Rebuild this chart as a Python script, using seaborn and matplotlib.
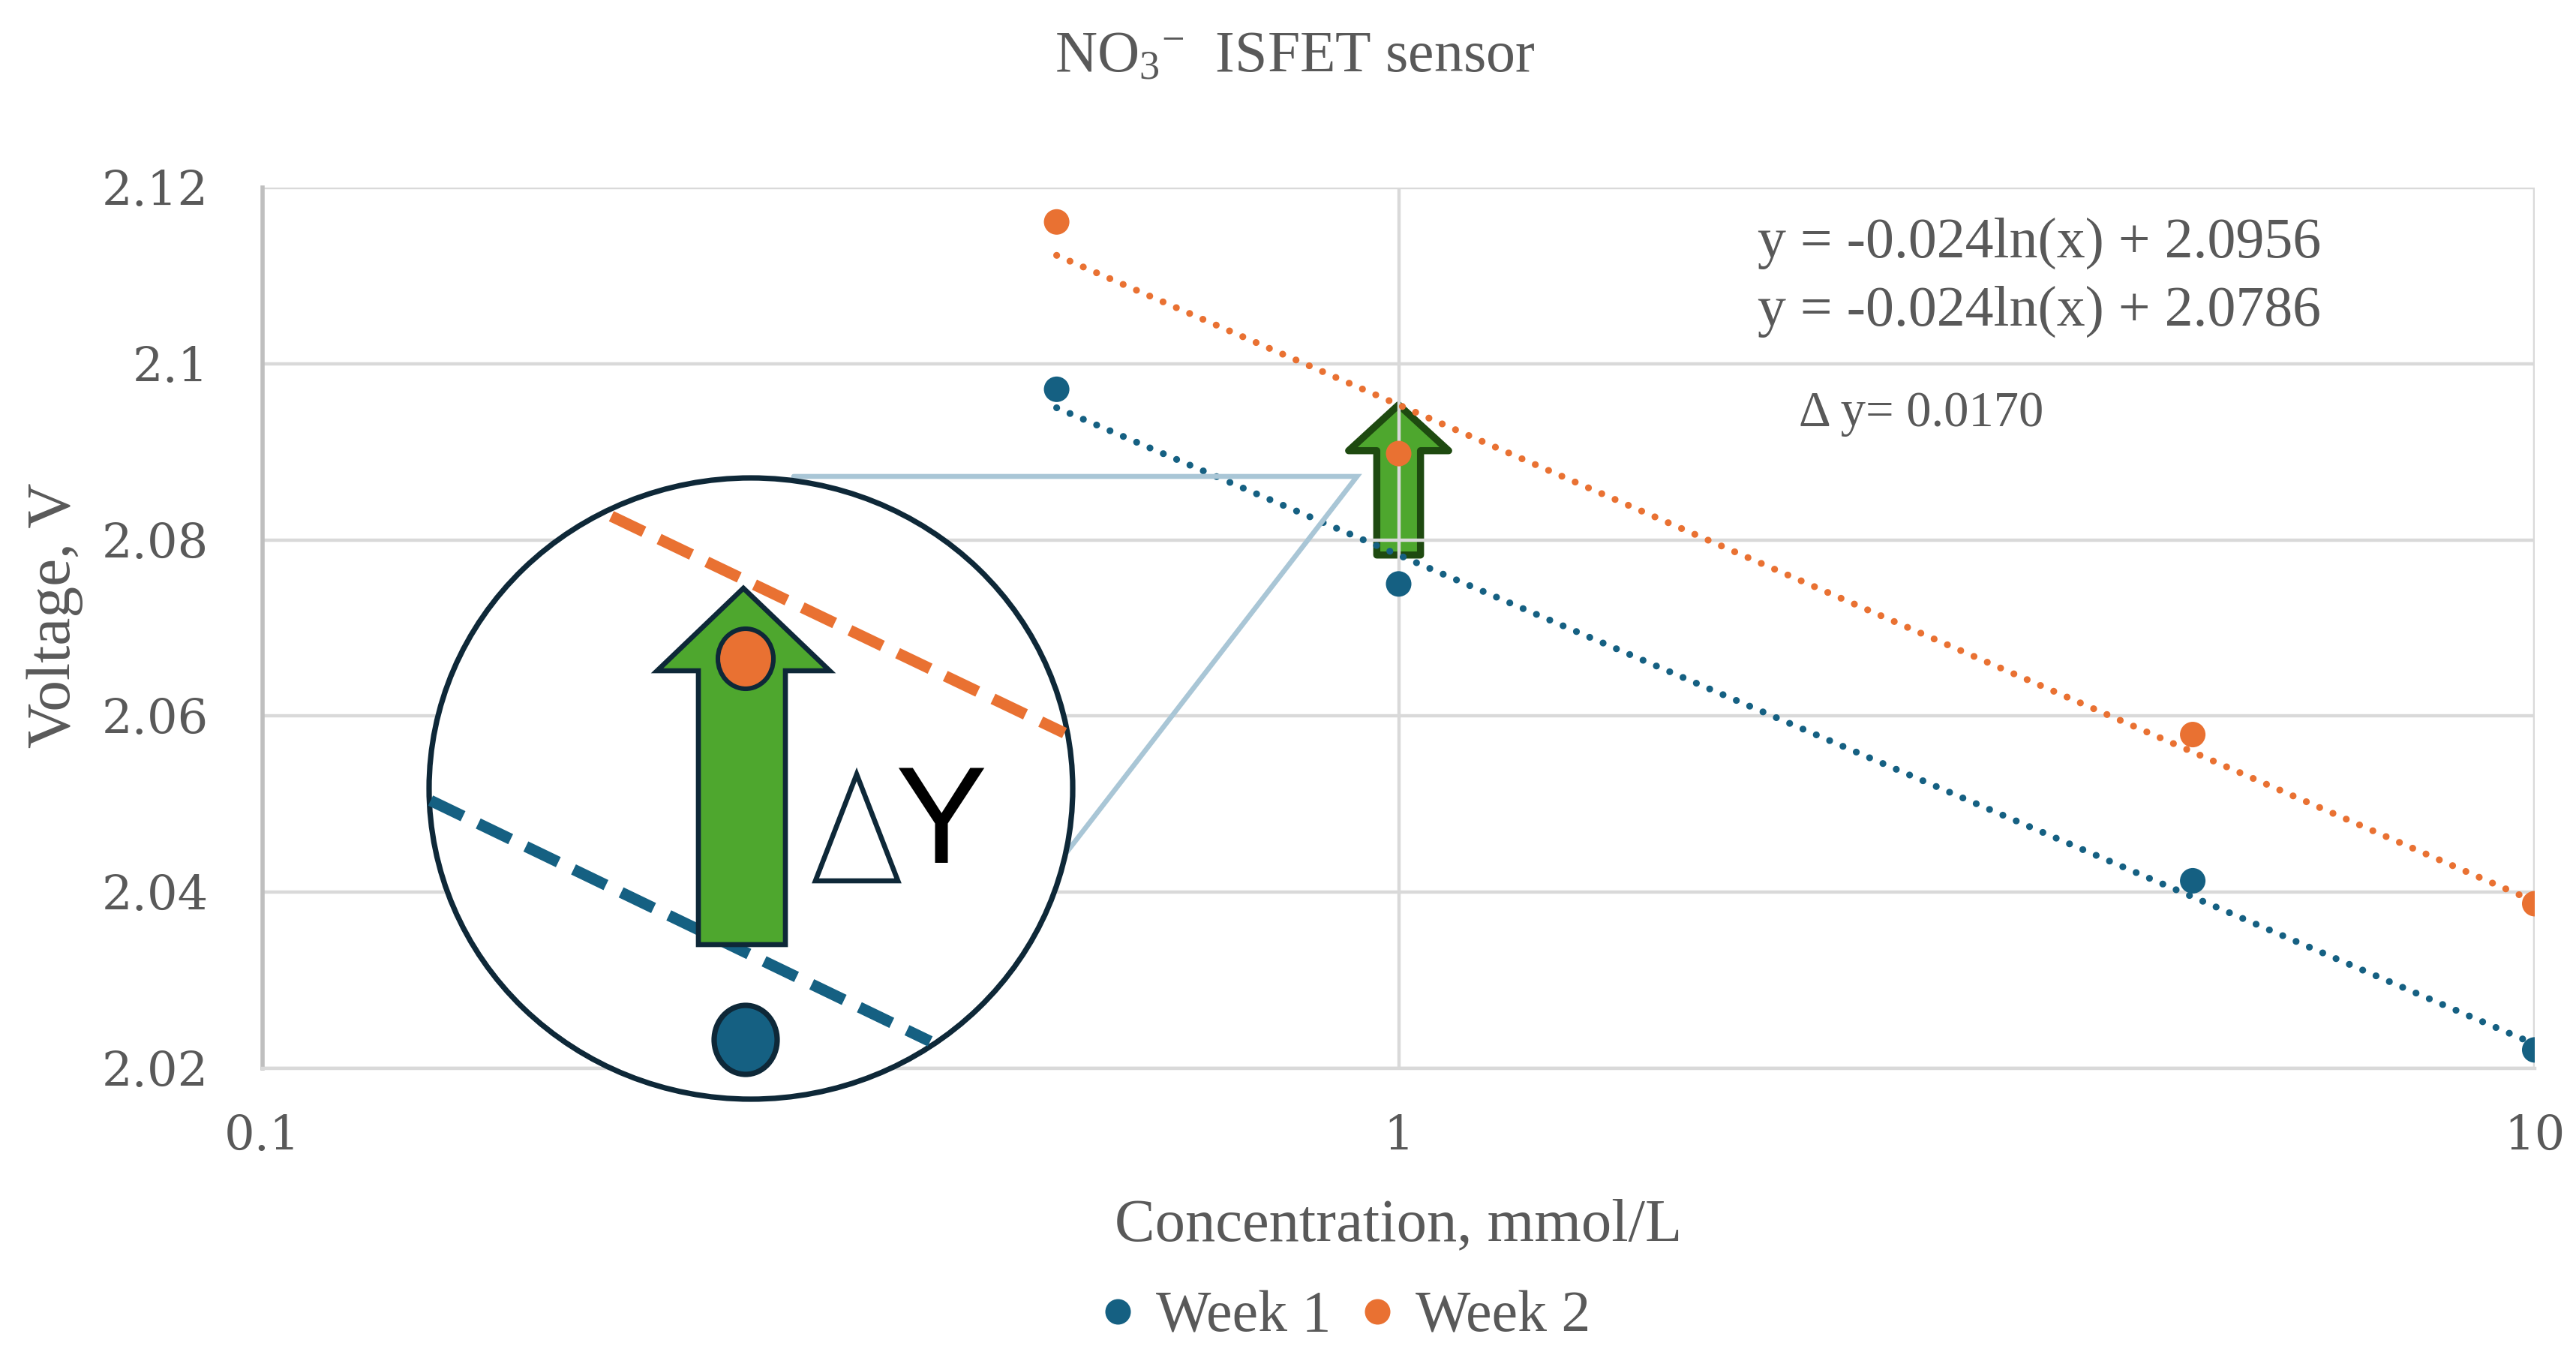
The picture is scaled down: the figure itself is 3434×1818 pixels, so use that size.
import numpy as np
import pandas as pd
import matplotlib
matplotlib.use("Agg")
import matplotlib.pyplot as plt
import seaborn as sns
from matplotlib.patches import Ellipse, Polygon
from matplotlib.ticker import NullLocator

# data
concentration = [0.5, 1, 5, 10]
week1 = [2.0971, 2.0750, 2.0413, 2.0221]
week2 = [2.1161, 2.0898, 2.0579, 2.0387]
series = ["Week 1", "Week 2"]
colors = ["#156082", "#e97132"]

eq_labels = ["y = -0.024ln(x) + 2.0956", "y = -0.024ln(x) + 2.0786"]
delta_label = "\u0394 y= 0.0170"
y_ticks = [2.02, 2.04, 2.06, 2.08, 2.1, 2.12]
y_ticklabels = ["2.02", "2.04", "2.06", "2.08", "2.1", "2.12"]
x_ticks = [0.1, 1, 10]
x_ticklabels = ["0.1", "1", "10"]

W, H = 3434, 1818
grey = "#595959"
navy = "#0e2838"

sns.set_theme(style="white")
plt.rcParams["font.family"] = ["Liberation Serif", "DejaVu Serif"]
plt.rcParams["mathtext.fontset"] = "custom"
plt.rcParams["mathtext.rm"] = "Liberation Serif"
plt.rcParams["mathtext.it"] = "Liberation Serif:italic"

df = pd.DataFrame({
    "conc": concentration * 2,
    "volt": week1 + week2,
    "series": [series[0]] * 4 + [series[1]] * 4,
})

fig = plt.figure(figsize=(W / 200, H / 200), dpi=200)
ax = fig.add_axes([350 / W, 1 - 1424 / H, (3379 - 350) / W, (1424 - 250) / H])

sns.scatterplot(data=df, x="conc", y="volt", hue="series", palette=colors,
                s=150, linewidth=0, zorder=3, ax=ax)

# log trendlines (Excel style)
fits = {}
for name, vals, c in zip(series, [week1, week2], colors):
    k, b = np.polyfit(np.log(concentration), vals, 1)
    fits[name] = (k, b)
    ax.plot(concentration, k * np.log(concentration) + b, color=c, lw=3.3,
            linestyle=(0, (0.01, 2.1)), dash_capstyle="round", zorder=2)

# small arrow between trendlines at x=1
ax.annotate("", xy=(1, fits["Week 2"][1]), xytext=(1, fits["Week 1"][1]),
            arrowprops=dict(arrowstyle="simple,head_length=2.2,head_width=4.8,tail_width=2.1",
                            mutation_scale=10, fc="#4ea72e", ec="#1e4a10", lw=3.4,
                            shrinkA=0, shrinkB=0),
            zorder=1.2)

ax.set_xscale("log")
ax.set_xlim(0.1, 10)
ax.set_ylim(2.02, 2.12)
ax.set_xticks(x_ticks)
ax.set_xticklabels(x_ticklabels)
ax.xaxis.set_minor_locator(NullLocator())
ax.set_yticks(y_ticks)
ax.set_yticklabels(y_ticklabels)
ax.tick_params(length=0, labelsize=23, colors=grey)
ax.tick_params(axis="y", pad=26)
ax.tick_params(axis="x", pad=22)
for lab in ax.get_xticklabels() + ax.get_yticklabels():
    lab.set_fontfamily("DejaVu Serif")

ax.set_axisbelow("line")
ax.grid(True, color="#d9d9d9", lw=1.6)
for s in ["top", "right"]:
    ax.spines[s].set_visible(False)
ax.spines["left"].set_color("#bfbfbf")
ax.spines["left"].set_linewidth(2)
ax.spines["bottom"].set_color("#d9d9d9")
ax.spines["bottom"].set_linewidth(1.6)

ax.set_xlabel("Concentration, mmol/L", fontsize=29, color=grey)
ax.set_ylabel("Voltage, V", fontsize=30, color=grey)
ax.xaxis.set_label_coords(0.5, -0.148)
ax.yaxis.set_label_coords(-0.079, 0.514)

fig.text(0.5026, 1 - 77 / H, r"NO$_3{}^{-}$  ISFET sensor", ha="center", va="center",
         fontsize=28, color=grey)

ax.text(0.658, 0.937, eq_labels[0], transform=ax.transAxes, fontsize=27.3,
        color=grey, va="center", ha="left")
ax.text(0.658, 0.859, eq_labels[1], transform=ax.transAxes, fontsize=27.3,
        color=grey, va="center", ha="left")
ax.text(0.676, 0.743, delta_label, transform=ax.transAxes, fontsize=24,
        color=grey, va="center", ha="left")

handles, labels = ax.get_legend_handles_labels()
ax.legend(handles, labels, loc="center", bbox_to_anchor=(0.5217, 1 - 1756 / H),
          bbox_transform=fig.transFigure, ncol=2, frameon=False, fontsize=28,
          handlelength=0.7, handletextpad=0.3, columnspacing=0.45,
          labelcolor=grey, markerscale=1.0)

# zoom-in illustration, drawn in pixel space
ov = fig.add_axes([0, 0, 1, 1], zorder=5)
ov.set_xlim(0, W)
ov.set_ylim(H, 0)
ov.axis("off")
ov.patch.set_alpha(0)

conn = "#a9c6d6"
ov.plot([1058, 1809, 1408], [635, 635, 1154], color=conn, lw=2.4,
        solid_joinstyle="miter", zorder=1)
ov.add_patch(Ellipse((1001, 1051), 2 * 429, 2 * 414, fc="white",
                     ec=navy, lw=2.6, zorder=2))
ov.plot([815, 1419], [688, 977], color=colors[1], lw=5.4,
        linestyle=(0, (3.2, 1.5)), zorder=3)
ov.plot([574, 1240], [1067, 1388], color=colors[0], lw=5.4,
        linestyle=(0, (3.2, 1.5)), zorder=3)
arrow = [(931, 1259), (931, 894), (876, 894), (991, 784), (1106, 894),
         (1047, 894), (1047, 1259)]
ov.add_patch(Polygon(arrow, closed=True, fc="#4ea72e", ec=navy, lw=2.4, zorder=4))
ov.add_patch(Ellipse((994, 878), 74, 80, fc=colors[1], ec=navy, lw=2.2, zorder=5))
ov.add_patch(Ellipse((994, 1386), 84, 92, fc=colors[0], ec=navy, lw=2.6, zorder=5))
ov.add_patch(Polygon([(1087, 1174), (1197, 1174), (1142, 1032)], closed=True,
                     fc="white", ec=navy, lw=2.4, zorder=6))
ov.text(1254, 1102, "Y", fontsize=66, family="Liberation Sans", color="black",
        ha="center", va="center", zorder=6)

fig.savefig("out.png", dpi=200, facecolor="white")
